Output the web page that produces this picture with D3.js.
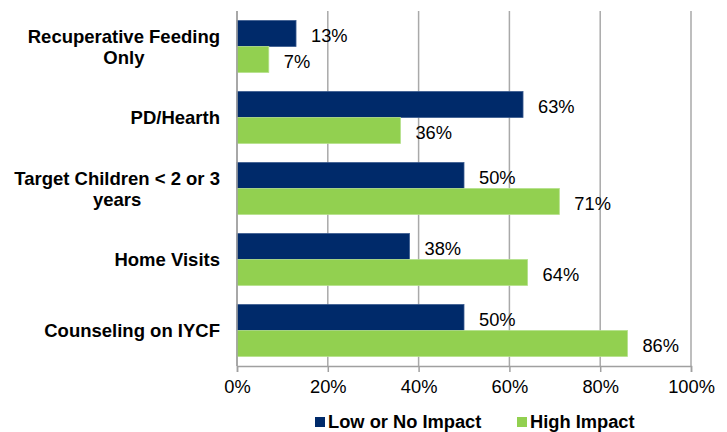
<!DOCTYPE html>
<html>
<head>
<meta charset="utf-8">
<script src="https://cdn.jsdelivr.net/npm/d3@7"></script>
<style>
  html, body { margin: 0; padding: 0; background: #fff; }
  svg { display: block; }
</style>
</head>
<body>
<svg id="chart" width="727" height="432"></svg>
<script>
const categories = [
  ["Recuperative Feeding", "Only"],
  ["PD/Hearth"],
  ["Target Children < 2 or 3", "years"],
  ["Home Visits"],
  ["Counseling on IYCF"]
];
const seriesNames = ["Low or No Impact", "High Impact"];
const lowImpact = [13, 63, 50, 38, 50];
const highImpact = [7, 36, 71, 64, 86];
const tickValues = [0, 20, 40, 60, 80, 100];
const colors = ["#002a6a", "#92d050"];

const svg = d3.select("#chart");
const margin = {left: 237, right: 36, top: 11, bottom: 66};
const W = 727, H = 432;
const plotW = W - margin.left - margin.right;
const plotH = H - margin.top - margin.bottom;

const x = d3.scaleLinear().domain([0, 100]).range([margin.left, margin.left + plotW]);
const y = d3.scaleBand().domain(d3.range(categories.length))
  .range([margin.top, margin.top + plotH]).paddingInner(0.268).paddingOuter(0.134);
const sub = d3.scaleBand().domain([0, 1]).range([0, y.bandwidth()]);

const FONT = "'Liberation Sans', Arial, sans-serif";
const FS = "18.3px";

// gridlines
svg.append("g").selectAll("line").data(tickValues).join("line")
  .attr("x1", d => x(d)).attr("x2", d => x(d))
  .attr("y1", margin.top).attr("y2", margin.top + plotH)
  .attr("stroke", "#a9a9a9").attr("stroke-width", 1.5);

// bottom axis
const xAxis = d3.axisBottom(x).tickValues(tickValues).tickFormat(d => d + "%").tickSize(6).tickPadding(8);
const gx = svg.append("g").attr("transform", `translate(0,${margin.top + plotH})`).call(xAxis);
gx.select(".domain").attr("stroke", "#a0a0a0").attr("stroke-width", 1.5);
gx.selectAll(".tick line").attr("stroke", "#a0a0a0").attr("stroke-width", 1.5);
gx.selectAll("text").attr("font-family", FONT).attr("font-size", FS).attr("fill", "#000");

// bars
const series = [lowImpact, highImpact];
series.forEach((vals, si) => {
  const g = svg.append("g");
  g.selectAll("rect").data(vals).join("rect")
    .attr("x", x(0))
    .attr("y", (d, i) => y(i) + sub(si))
    .attr("width", d => x(d) - x(0))
    .attr("height", sub.bandwidth())
    .attr("fill", colors[si])
    .attr("stroke", si === 0 ? "#3a5b8f" : "#b4e08a")
    .attr("stroke-width", 0.8);
  g.selectAll("text").data(vals).join("text")
    .attr("x", d => x(d) + 15)
    .attr("y", (d, i) => y(i) + sub(si) + sub.bandwidth() / 2)
    .attr("dy", "0.44em")
    .attr("font-family", FONT).attr("font-size", FS).attr("fill", "#000")
    .text(d => d + "%");
});

// left axis line
svg.append("line").attr("x1", x(0)).attr("x2", x(0))
  .attr("y1", margin.top).attr("y2", margin.top + plotH)
  .attr("stroke", "#a0a0a0").attr("stroke-width", 1.5);

// category labels: block right-aligned at 220, lines centered within block
const lineH = 21;
const labelRight = 220;
categories.forEach((lines, i) => {
  const cy = y(i) + y.bandwidth() / 2;
  const t = svg.append("text")
    .attr("text-anchor", "middle")
    .attr("font-family", FONT).attr("font-size", "18.5px").attr("font-weight", "bold").attr("fill", "#000");
  const spans = lines.map((ln, k) => t.append("tspan")
      .attr("y", cy + (k - (lines.length - 1) / 2) * lineH)
      .attr("dy", "0.36em").text(ln));
  const maxW = d3.max(spans, s => s.node().getComputedTextLength());
  spans.forEach(s => s.attr("x", labelRight - maxW / 2));
});

// legend
const legend = svg.append("g");
const legX = [315, 517];
seriesNames.forEach((name, i) => {
  legend.append("rect").attr("x", legX[i]).attr("y", 417).attr("width", 10).attr("height", 10).attr("fill", colors[i]);
  legend.append("text").attr("x", legX[i] + 13).attr("y", 427.5)
    .attr("font-family", FONT).attr("font-size", "18.3px").attr("font-weight", "bold").attr("fill", "#000")
    .text(name);
});
</script>
</body>
</html>
